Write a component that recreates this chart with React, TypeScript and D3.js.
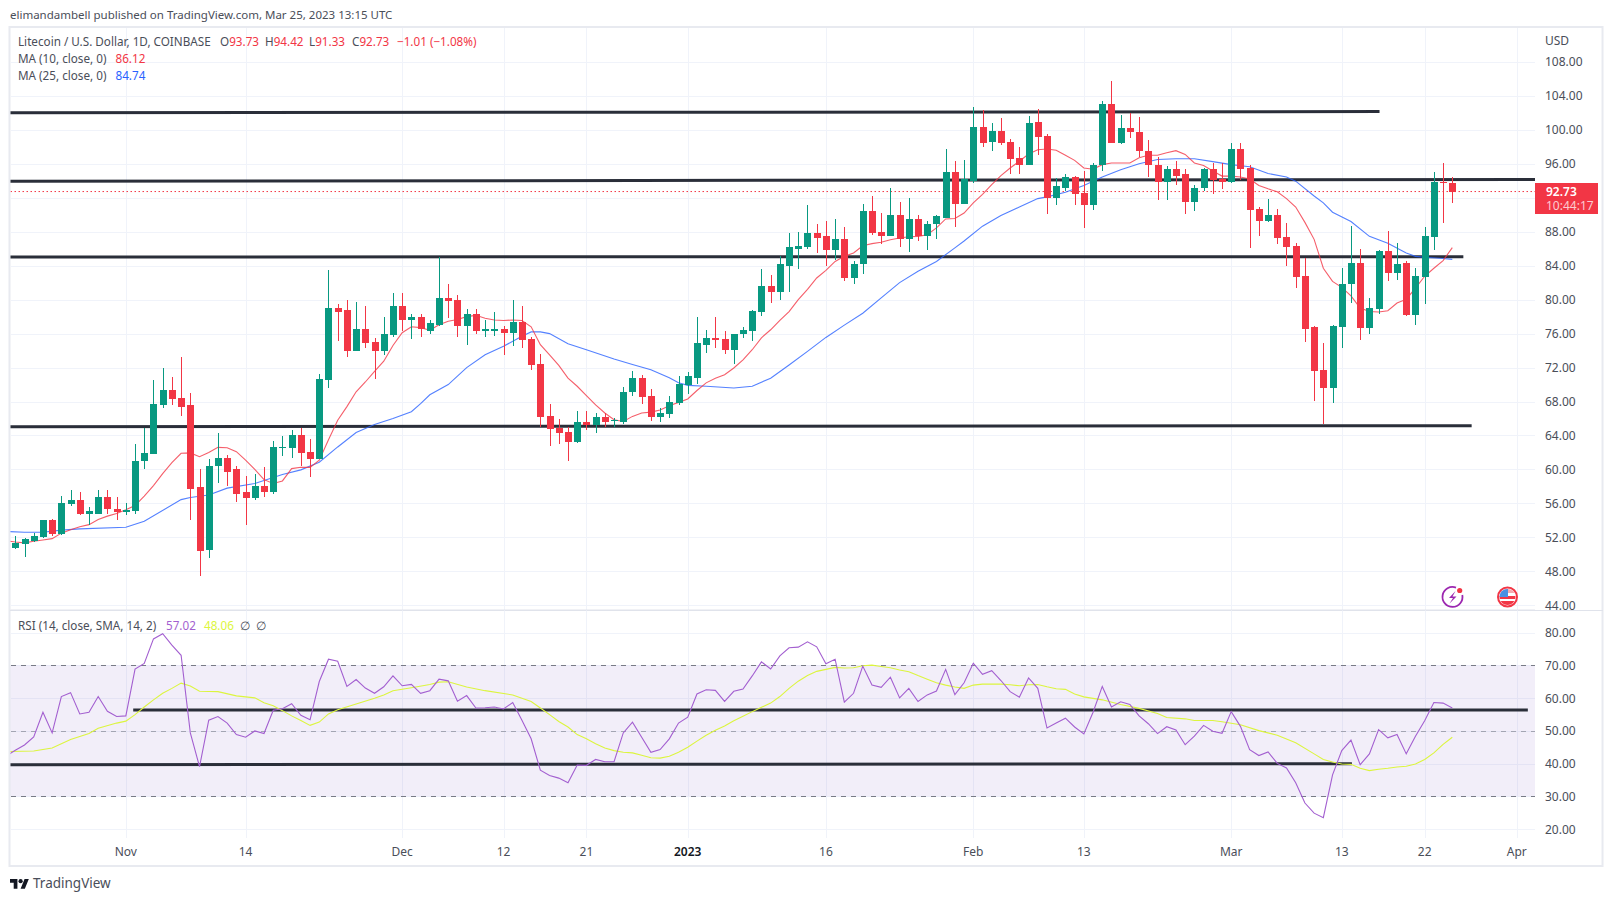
import React from 'react';
import * as d3 from 'd3';

const opens = [
  50.8,51.2,51.6,52.1,54.1,52.45,55.9,56.45,54.7,54.8,
  56.7,55.4,54.95,55.05,60.95,61.8,67.55,69.3,68.4,67.55,
  57.9,50.55,60.35,61.4,60,57.3,56.6,58,57.4,62.5,
  62.5,64,62,61.2,70.5,79,78.75,74,76.5,75,
  73.9,75.8,79.3,77.55,78,76.35,77.05,80.25,80,76.85,
  78.35,76.25,76.25,76.6,76.1,77.4,75.4,72.45,66.3,64.9,
  64.4,63.25,65.6,65.25,66.2,65.7,65.6,69.15,70.8,68.7,
  66.2,66.55,67.85,70,70.8,74.7,75.5,75.4,74.1,75.9,
  76.35,78.6,81.65,80.85,84,86,86.25,87.9,87.45,85.9,
  87.1,82.6,84.15,90.4,88,87.55,90,87.2,89.55,87.45,
  88.85,89.65,95,91.3,94,100.35,98.55,99.85,98.55,96.7,
  95.85,100.9,99.3,92,93.2,94.4,92.6,91.1,95.8,103,
  98.5,100.25,99.8,97.55,95.9,93.8,95.35,94.75,91.55,93.1,
  95.35,94.15,93.8,97.8,95.45,90.7,89.3,90,87.4,86.35,
  82.8,76.8,71.7,69.6,76.8,81.85,84.35,76.65,78.9,85.75,
  83.15,84.35,78.2,82.7,87.4,93.9,93.73,
];
const closes = [
  51.3,51.75,52.2,54.1,52.45,56,56.45,54.7,55.05,56.7,
  55.3,54.95,55.2,61.05,61.9,67.65,69.3,68.25,67.4,57.75,
  50.45,60.45,61.4,59.75,57.15,56.6,58,57.4,62.6,62.6,
  64,61.9,61.2,70.6,79,78.6,74,76.5,74.85,73.9,
  75.9,79.3,77.55,78,76.5,77.2,80.25,79.8,76.85,78.35,
  76.25,76.5,76.6,76.1,77.4,75.3,72.35,66.2,64.8,64.3,
  63.25,65.6,65.25,66.2,65.6,65.8,69.15,70.8,68.55,66.2,
  66.7,68,70.1,70.95,74.85,75.5,75.3,74.1,76,76.45,
  78.7,81.65,80.85,84.15,86.15,86.35,87.9,87.3,85.9,87.1,
  82.6,84.25,90.4,87.9,87.55,90,87.2,89.45,87.45,88.95,
  89.8,95,91.3,94.25,100.35,98.45,99.85,98.45,96.55,95.85,
  100.8,99.15,92,93.35,94.4,92.5,91.1,95.9,103,98.5,
  100.25,99.7,97.45,95.8,93.8,95.35,94.6,91.55,93.2,95.35,
  94.05,93.8,97.8,95.35,90.6,89.3,90,87.3,86.25,82.7,
  76.55,71.6,69.6,76.9,81.85,84.35,76.65,79.05,85.75,83.15,
  84.2,78.2,82.8,87.55,93.9,93.7,92.73,
];
const highs = [
  52.2,51.9,52.5,54.1,54.2,56.9,57.6,57.4,55.6,57.6,
  57.6,56.7,56,62.95,64.85,70.5,72,70.85,73.3,69,
  60,61.2,64.25,61.65,60.35,59.2,59.5,60.25,63.3,63.9,
  64.6,64.85,63.55,71.3,83.5,79.45,79.9,79.7,79.3,75.45,
  78,80.75,80.75,78.25,78.25,77.55,85.05,81.9,80.5,78.85,
  78.85,77.55,78.5,76.85,79.9,79.2,75.55,73.65,67.75,66,
  65,66.9,66.9,66.7,66.7,66.1,69.75,71.65,71.15,69.5,
  67.25,68.7,71.05,71.5,78,76.45,78,76.35,76,76.8,
  78.8,83.65,82.95,85.1,87.9,88,91.2,88.85,89.3,89.45,
  88.5,84.6,91.3,92.15,90.15,93.2,91.55,92,90,89.3,
  90,97.8,96.3,96.4,102.7,102.35,100.8,101.4,98.9,98,
  101.65,102.45,99.5,94.3,94.85,94.6,95.1,96.05,103.35,105.8,
  101.8,102,101.55,98.75,96.85,95.7,96.3,95.35,93.55,95.55,
  96.15,96.05,98.4,98.4,95.9,90.95,91.9,90.7,89.05,86.7,
  84.95,76.9,74.9,77,83.75,88.7,86,80.2,85.9,88.1,
  86.7,84.6,83.75,88.6,95,96.15,94.42,
];
const lows = [
  50.6,49.7,51.5,51.9,52.2,52.3,55.75,54.6,53.5,54.7,
  54.8,54.1,54.6,54.7,60.1,61.8,67.2,67.55,66.25,54.1,
  47.5,49.6,58.35,58.1,56.2,53.5,56.45,56.7,57.05,61.55,
  61.3,60.35,59.15,61.2,69.55,75.1,73.3,73.9,74.25,70.6,
  73.45,75.55,76.35,75.4,75.55,75.9,76.95,77.8,75.65,74.6,
  75.9,75.65,75.75,73.5,74.5,74.25,71.75,65,62.8,63,
  61,63.15,64.65,64.3,65,65,65.4,68.7,67.75,65.75,
  65.6,66.1,67.6,68.9,70.1,73.75,74.35,73.65,72.45,75.5,
  75.15,78.1,79.65,80,80.85,83.65,86,85.45,84,84.7,
  82.25,81.8,83.05,87.65,86.6,87.55,86.15,85.65,86.95,85.9,
  87.1,89.65,88.5,91.3,93.75,98,97.5,98.2,94.8,94.8,
  95.85,97,90.1,91.2,92.75,91.1,88.4,90.5,95.1,98.5,
  98.3,99,96.8,94.5,91.7,91.7,93.45,90.05,90.4,92.85,
  92.5,93,93.7,94.05,86.1,87.55,89.2,86.6,84,81.4,
  75,68.05,65.3,67.8,74.3,79.6,75.25,75.95,78.3,82.2,
  82.35,78.1,77,79.5,85.9,89.05,91.33,
];

// Daily readings, first value sits one day before the first candle
const ma10 = [
  51.6,51.45,51.35,51.55,51.7,51.85,52.5,52.9,53.25,53.5,54.1,
  54.5,54.8,55.25,55.75,56.85,58.1,59.5,60.8,61.9,61.95,
  61.5,62,62.6,62.55,62.1,61.1,60,58.8,58.35,58.65,
  60.1,60.25,60.25,61.1,63.5,65.8,67.4,69.15,70.3,71.55,
  72.75,74.6,76.1,76.8,76.7,76.4,77.05,77.45,77.65,78,
  78.15,77.8,77.6,77.55,77.6,77.55,76.8,74.7,73.5,72.25,
  70.75,69.8,68.7,67.6,66.65,65.85,65.65,66.25,66.65,66.75,
  67,67.5,67.9,68.3,69.3,70.2,70.75,71.15,71.95,72.9,
  74.1,75.5,76.45,77.55,78.6,80,81.2,82.55,83.45,84.5,
  85.1,85.5,86.35,86.6,86.75,87.05,87.25,87.4,87.45,87.65,
  88.45,89.5,89.55,90.2,91.4,92.4,93.55,94.6,95.5,96.3,
  97.15,97.65,97.75,97.6,97,96.4,95.5,95.35,95.9,96.1,
  96.1,96.1,96.7,97,97,97.3,97.55,97.1,96.1,95.8,
  95.15,94.55,94.55,94.45,94.2,93.45,93.05,92.7,91.9,90.9,
  89.1,87.1,83.7,82.15,81.45,80.45,79,78.6,78.55,78.7,
  79.6,80.05,81.35,82.75,83.7,84.6,86.12,
];
const ma25Days = [
  -1,1,3,5,7,12,14,18,19,21,23,26,29,31,33,35,37,39,41,43,44,45,47,49,51,53,55,56,57,58,60,62,65,67,69,71,72,73,75,78,80,82,84,86,
  88,90,92,94,96,98,100,102,103,105,107,109,111,112,114,116,118,120,122,124,126,128,130,132,134,136,138,139,141,142,143,145,147,149,151,152,153,155,156,
];
const ma25 = [
  52.7,52.6,52.6,52.85,53,53.2,53.9,56.45,56.7,57,57.8,58.35,59.4,59.95,60.85,62.65,64.35,65.3,66,66.8,67.75,68.8,70,72,73.5,74.5,75.7,76.2,76.2,76,74.8,74.1,73,72.35,71.75,70.8,70.2,69.9,69.8,69.6,69.8,70.75,72.3,73.9,
  75.55,77,78.4,80.2,82,83.35,84.5,86.1,86.9,88.65,89.9,90.9,91.9,92.1,92.65,93.45,94.45,95.3,96,96.5,96.6,96.6,96.25,95.9,95.65,94.85,94.45,93.95,92.2,91.4,90.3,89.2,87.45,86.65,85.5,85.1,85,84.85,84.74,
];

// RSI daily readings, first value sits one day before the first candle
const rsi = [
  42.3,44.1,45.7,48.2,55.7,49.4,60.5,61.7,55.2,55.7,60.5,
  56,54.4,54.6,68.9,70.6,78.1,79.7,76.2,73.1,49.4,
  39.1,53.3,54.4,52.4,48.9,48.1,50,49.2,56.3,56.8,
  58.3,54.8,53.4,65.1,71.9,71.3,63.6,65.7,63.1,61.5,
  63.5,66.8,63.8,64.2,61.5,62.3,65.8,65.3,59.1,60.8,
  57,57.1,57.3,56.7,58.7,53.3,47.6,38,36.4,35.6,
  34.2,39.6,39.5,41.3,40.6,40.6,49.4,52.7,48.1,43.5,
  44.3,47.6,52.4,54.2,61.3,62.6,62.4,59,62.1,62.8,
  66.8,71.1,68.9,72.9,75.4,75.6,77.2,75.7,70.5,71.9,
  58.8,61.5,69.8,64,63.3,66.4,60.1,63,59,61,
  62.2,68.8,61.1,64.7,70.7,67.3,68.4,65.4,62,60.3,
  66.2,63,50.9,52.4,53.9,51.2,49.1,55.7,63.6,57.3,
  58.9,58.1,54.6,52.2,49.2,51.3,50.3,45.8,48.4,51.7,
  49.9,49.3,55.9,51.4,44.3,42.5,43.6,40.1,38.7,34.2,
  28,24.9,23.5,36.6,44,47.2,39.7,43,50.4,47.9,
  48.9,43,48.4,53.1,58.7,58.5,57.02,
];
const rsiMaDays = [
  -1,2,4,6,8,9,11,12,13,14,15,16,17,18,19,20,22,24,26,27,28,29,30,31,32,33,34,35,37,39,40,41,43,45,46,47,49,51,54,
  56,57,58,59,60,61,62,63,64,65,66,67,68,69,70,71,72,73,74,75,76,77,78,79,80,81,82,83,84,85,86,87,88,89,90,91,92,93,94,95,96,97,98,99,100,101,102,103,104,105,106,107,108,109,110,111,112,113,
  114,115,116,118,120,122,124,125,127,128,130,131,133,135,137,139,141,142,143,144,145,146,147,148,149,150,151,152,153,154,155,156,
];
const rsiMa = [
  43.7,43.9,44.8,47.4,49.2,50.8,52.4,53,55,57.3,59.5,61.5,63,64.6,63.7,62.1,62,60.7,60.1,58.6,57.7,56.2,54.6,53.2,51.7,52.7,55.2,56.5,58.2,60,61,62.3,63.2,64.2,64.9,65,63.4,62.3,61,
  59,57,55,52.9,51.2,48.9,47.6,46.1,44.8,44,43.5,43.3,42.6,41.8,41.7,42.3,43.5,45,46.9,48.7,50.2,51.5,53.1,54.5,55.9,57.2,58.5,60.5,63,65.2,66.9,68.2,68.8,69.4,69.2,69.3,69.9,70.1,69.7,69.3,68.6,68.1,66.9,65.8,64.7,64,63.4,63,64,64.3,64.3,64.3,64.1,63.8,64.1,64.2,63.5,62.9,
  62.7,61.3,60.4,59.5,58.1,56.9,55.3,54.1,53.7,53.2,53.2,52.8,51.9,50.1,48.7,46.4,43,41.3,40.5,39.9,39.8,38.6,37.9,38.3,38.6,39,39.2,39.9,41.3,43.3,45.9,48.06,
];

const priceTicks = [108,104,100,96,92,88,84,80,76,72,68,64,60,56,52,48,44];
const priceLabels = [108,104,100,96,88,84,80,76,72,68,64,60,56,52,48,44];
const rsiTicks = [80,70,60,50,40,30,20];
const timeDays = [12,25,42,53,62,73,88,104,116,132,144,153,163];
const timeLabels = ['Nov','14','Dec','12','21','2023','16','Feb','13','Mar','13','22','Apr'];

// Hand-drawn support / resistance lines: [day, price, day, price]
const priceLines = [
  [-2,102,148.1,102.15],
  [-2,93.95,165,94.15],
  [-2,85.03,157.2,85.06],
  [-2,65.04,158.1,65.15],
];
const rsiLines = [
  [12.8,56.4,164.2,56.4],
  [-2,39.7,145.1,40],
];

const GREEN = '#089981';
const RED = '#f23645';
const INK = '#131722';
const TXT = '#4a4e59';
const FONT = '"Noto Sans", sans-serif';

const x = d3.scaleLinear().domain([0,156]).range([15.3,1452.3]);
const yP = d3.scaleLinear().domain([44,108]).range([605.3,61.9]);
const yR = d3.scaleLinear().domain([20,80]).range([829.2,632.7]);
const L = 10.5, R = 1535, PT = 28, PB = 610, RT = 611, RB = 838;

const linePrice = d3.line<number>().x((_, i) => x(i - 1)).y(v => yP(v));
const lineRsi = d3.line<number>().x((_, i) => x(i - 1)).y(v => yR(v));
const ma25Path = d3.line<number>().x(d => x(d)).y((_, i) => yP(ma25[i]))(ma25Days) as string;
const rsiMaPath = d3.line<number>().x(d => x(d)).y((_, i) => yR(rsiMa[i]))(rsiMaDays) as string;

const tStyle = { fontFamily: FONT, fontSize: 12 } as const;
const legStyle = { fontFamily: FONT, fontSize: 11.7 } as const;

export default function App() {
  return (
    <svg width={1613} height={901} style={{ position: 'absolute', left: 0, top: 0, background: '#fff' }}>
      <defs>
        <clipPath id="pc"><rect x={L} y={PT} width={R - L} height={PB - PT} /></clipPath>
        <clipPath id="rc"><rect x={L} y={RT} width={R - L} height={RB - RT} /></clipPath>
        <clipPath id="fl"><circle cx={1507.5} cy={597} r={8} /></clipPath>
      </defs>

      <text x={10} y={19} style={{ fontFamily: FONT, fontSize: 11.5 }} fill={TXT}>elimandambell published on TradingView.com, Mar 25, 2023 13:15 UTC</text>

      {/* Frame */}
      <rect x={9.5} y={27} width={1593} height={839} fill="#fff" stroke="#e8eaf0" strokeWidth={2} />
      <line x1={10} x2={1603} y1={610.5} y2={610.5} stroke="#e0e3eb" />

      {/* Grid */}
      <g stroke="#f0f3fa" shapeRendering="crispEdges">
        {timeDays.map(d => <line key={d} x1={Math.round(x(d)) + 0.5} x2={Math.round(x(d)) + 0.5} y1={PT} y2={RB} />)}
        {priceTicks.map(t => <line key={t} x1={L} x2={R} y1={Math.round(yP(t)) + 0.5} y2={Math.round(yP(t)) + 0.5} />)}
        {rsiTicks.map(t => <line key={t} x1={L} x2={R} y1={Math.round(yR(t)) + 0.5} y2={Math.round(yR(t)) + 0.5} />)}
      </g>
      <line x1={L} x2={R} y1={PB} y2={PB} stroke="#e0e3eb" />

      {/* RSI band */}
      <rect x={L} width={R - L} y={yR(70)} height={yR(30) - yR(70)} fill="#7e57c2" fillOpacity={0.1} />
      <g stroke="#787b86" strokeDasharray="5 5" shapeRendering="crispEdges">
        <line x1={L} x2={R} y1={Math.round(yR(70)) + 0.5} y2={Math.round(yR(70)) + 0.5} />
        <line x1={L} x2={R} y1={Math.round(yR(50)) + 0.5} y2={Math.round(yR(50)) + 0.5} strokeOpacity={0.6} />
        <line x1={L} x2={R} y1={Math.round(yR(30)) + 0.5} y2={Math.round(yR(30)) + 0.5} />
      </g>

      {/* Price pane */}
      <g clipPath="url(#pc)">
        <line x1={L} x2={R} y1={yP(92.73)} y2={yP(92.73)} stroke={RED} strokeDasharray="1.5 2.5" />
        {priceLines.map((l, i) => (
          <line key={i} x1={x(l[0])} y1={yP(l[1])} x2={x(l[2])} y2={yP(l[3])} stroke="#2a2e39" strokeWidth={3} />
        ))}
        <path d={ma25Path} fill="none" stroke="#2962ff" strokeOpacity={0.8} strokeWidth={1.1} />
        <path d={linePrice(ma10) as string} fill="none" stroke={RED} strokeOpacity={0.8} strokeWidth={1.1} />
        <g shapeRendering="crispEdges">
          {opens.map((o, i) => {
            const c = closes[i];
            const col = c >= o ? GREEN : RED;
            const cx = Math.round(x(i));
            const top = Math.round(yP(Math.max(o, c)));
            const bot = Math.max(Math.round(yP(Math.min(o, c))), top + 1);
            return (
              <g key={i}>
                <rect x={cx} width={1} y={Math.round(yP(highs[i]))} height={Math.max(1, Math.round(yP(lows[i])) - Math.round(yP(highs[i])))} fill={col} />
                <rect x={cx - 3} width={7} y={top} height={bot - top} fill={col} />
              </g>
            );
          })}
        </g>
      </g>

      {/* RSI pane */}
      <g clipPath="url(#rc)">
        {rsiLines.map((l, i) => (
          <line key={i} x1={x(l[0])} y1={yR(l[1])} x2={x(l[2])} y2={yR(l[3])} stroke="#2a2e39" strokeWidth={3} />
        ))}
        <path d={rsiMaPath} fill="none" stroke="#dcf53e" strokeWidth={1.1} />
        <path d={lineRsi(rsi) as string} fill="none" stroke="#a35fd0" strokeWidth={1.1} />
      </g>

      {/* Axis labels */}
      <g style={tStyle} fill={TXT}>
        <text x={1545} y={45}>USD</text>
        {priceLabels.map(t => <text key={t} x={1545} y={yP(t) + 4.5}>{t.toFixed(2)}</text>)}
        {rsiTicks.map(t => <text key={t} x={1545} y={yR(t) + 4.5}>{t.toFixed(2)}</text>)}
        {timeDays.map((d, i) => (
          <text key={d} x={x(d)} y={856} textAnchor="middle" fill={timeLabels[i] === '2023' ? INK : TXT} fontWeight={timeLabels[i] === '2023' ? 600 : 400}>{timeLabels[i]}</text>
        ))}
      </g>

      {/* Last price tag */}
      <rect x={1535} y={183} width={63} height={31} fill={RED} />
      <text x={1546} y={196} fill="#fff" style={tStyle} fontWeight={600}>92.73</text>
      <text x={1546} y={210} fill="#fff" fillOpacity={0.75} style={tStyle}>10:44:17</text>

      {/* Legend */}
      <g style={legStyle} fill={TXT}>
        <text x={18} y={46}>Litecoin / U.S. Dollar, 1D, COINBASE</text>
        <text x={220} y={46}>O<tspan fill={RED}>93.73</tspan></text>
        <text x={265} y={46}>H<tspan fill={RED}>94.42</tspan></text>
        <text x={309} y={46}>L<tspan fill={RED}>91.33</tspan></text>
        <text x={352} y={46}>C<tspan fill={RED}>92.73</tspan></text>
        <text x={397} y={46} fill={RED}>−1.01 (−1.08%)</text>
        <text x={18} y={63}>MA (10, close, 0)</text>
        <text x={115.5} y={63} fill={RED}>86.12</text>
        <text x={18} y={80}>MA (25, close, 0)</text>
        <text x={115.5} y={80} fill="#2962ff">84.74</text>
        <text x={18} y={630}>RSI (14, close, SMA, 14, 2)</text>
        <text x={166} y={630} fill="#a35fd0">57.02</text>
        <text x={204} y={630} fill="#dcf53e">48.06</text>
        <text x={240} y={630}>∅</text>
        <text x={256} y={630}>∅</text>
      </g>

      {/* Event icons */}
      <g fill="none">
        <path d="M1456 587.6 A10 10 0 1 0 1462.3 595" stroke="#9c27b0" strokeWidth={1.8} />
        <path d="M1455.5 591 L1449 598 L1453 598 L1449.5 603.5 L1456.5 596.5 L1452.5 596.5 Z" fill="#9c27b0" />
        <circle cx={1459.7} cy={590.5} r={2.6} fill={RED} />
        <circle cx={1507.5} cy={597} r={9.5} stroke={RED} strokeWidth={2} fill="#fff" />
        <g clipPath="url(#fl)">
          <rect x={1499} y={589} width={17} height={4} fill="#f7a8ad" />
          <rect x={1499} y={596} width={17} height={3} fill={RED} />
          <rect x={1499} y={601} width={17} height={5} fill={RED} />
          <rect x={1499} y={589} width={9} height={8} fill="#4a90e2" />
        </g>
      </g>

      {/* Logo */}
      <g transform="translate(10,877) scale(0.53)" fill={INK}>
        <path d="M14 22H7V11H0V4h14v18zM28 22h-8l7.5-18h8L28 22z" />
        <circle cx={20} cy={8} r={4} />
      </g>
      <text x={33} y={888} fontFamily={FONT} fontSize={13.5} fill={TXT}>TradingView</text>
    </svg>
  );
}
